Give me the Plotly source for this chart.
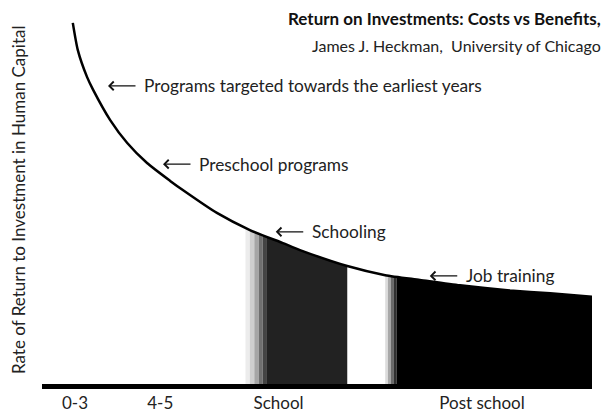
import numpy as np
import plotly.graph_objects as go

# ---- data ----
stage_x = [5.6, 6.5, 8.2, 9.3, 12.4, 15.5, 19.1, 23.3, 25.6, 31.8, 37.8, 43.8,
           46.9, 55.5, 62.4, 68.7, 76.0, 85.1, 92.4, 100.0]
return_y = [99.2, 91.8, 84.3, 80.8, 72.5, 66.2, 60.7, 55.8, 53.3, 47.0, 42.3, 38.7,
            36.8, 32.4, 29.9, 28.6, 27.1, 25.7, 24.9, 24.0]

tick_positions = [6.0, 21.5, 43.0, 80.0]
tick_labels = ["0-3", "4-5", "School", "Post school"]

# shaded investment bands: (start, end, colour)
school_band = [(37.0, 37.8, "#ececec"), (37.8, 38.6, "#cfcfcf"), (38.6, 39.4, "#a6a6a6"),
               (39.4, 40.1, "#707070"), (40.1, 40.9, "#444444"), (40.9, 55.5, "#222222")]
post_band = [(62.4, 62.9, "#dcdcdc"), (62.9, 63.4, "#a8a8a8"), (63.4, 63.9, "#6a6a6a"),
             (63.9, 64.5, "#303030"), (64.5, 100.0, "#000000")]

labels = ["Programs targeted towards the earliest years", "Preschool programs",
          "Schooling", "Job training"]
arrow_tips = [(12.0, 81.9), (22.0, 60.4), (42.5, 41.8), (70.5, 29.7)]

FONT = "Lato, 'Open Sans', sans-serif"

fig = go.Figure()

for start, end, color in school_band + post_band:
    xs = np.linspace(start, end, 30)
    ys = np.interp(xs, stage_x, return_y)
    fig.add_trace(go.Scatter(
        x=[start] + list(xs) + [end], y=[0] + list(ys) + [0],
        mode="lines", fill="toself", fillcolor=color, line=dict(width=0, color=color),
        hoverinfo="skip", showlegend=False))

fig.add_trace(go.Scatter(x=stage_x, y=return_y, mode="lines",
                         line=dict(color="black", width=2.5, shape="spline", smoothing=0.6),
                         showlegend=False, hoverinfo="skip"))

annotations = []
for text, (tx, ty) in zip(labels, arrow_tips):
    annotations.append(dict(x=tx, y=ty, xref="x", yref="y", ax=29, ay=0,
                            text="", showarrow=True, arrowhead=4, arrowsize=1.3,
                            arrowwidth=1.3, arrowcolor="#111"))
    annotations.append(dict(x=tx, y=ty, xref="x", yref="y", text=text, showarrow=False,
                            xanchor="left", yanchor="middle", xshift=34,
                            font=dict(family=FONT, size=17.3, color="#222")))

annotations.append(dict(x=(603 - 42) / 550, y=(384 - 18) / 364, xref="paper", yref="paper",
                        text="<b>Return on Investments: Costs vs Benefits,</b>",
                        showarrow=False, xanchor="right", yanchor="middle",
                        font=dict(family=FONT, size=17, color="#111")))
annotations.append(dict(x=(603 - 42) / 550, y=(384 - 46) / 364, xref="paper", yref="paper",
                        text="James J. Heckman,  University of Chicago",
                        showarrow=False, xanchor="right", yanchor="middle",
                        font=dict(family=FONT, size=16, color="#222")))
annotations.append(dict(x=-24 / 550, y=(384 - 200) / 364, xref="paper", yref="paper",
                        text="Rate of Return to Investment in Human Capital",
                        showarrow=False, textangle=-90, xanchor="center", yanchor="middle",
                        font=dict(family=FONT, size=17, color="#222")))

fig.update_layout(
    width=611, height=412,
    margin=dict(l=42, r=19, t=20, b=28),
    paper_bgcolor="white", plot_bgcolor="white",
    annotations=annotations,
    xaxis=dict(range=[0, 100], showgrid=False, zeroline=False, showline=True,
               linecolor="black", linewidth=5, ticks="", tickvals=tick_positions,
               ticktext=tick_labels, ticklabelstandoff=0, automargin=False,
               tickfont=dict(family=FONT, size=17, color="#222")),
    yaxis=dict(range=[0, 100], showgrid=False, zeroline=False, showline=False,
               showticklabels=False, ticks="", automargin=False),
)

fig.write_html("out.html", config={"displayModeBar": False},
               post_script="document.body.style.margin='0';")
